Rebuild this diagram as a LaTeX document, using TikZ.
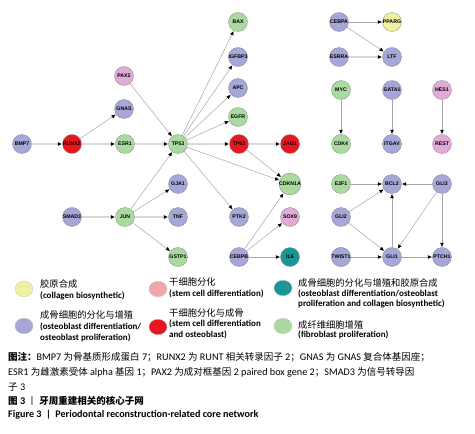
\documentclass[tikz,border=0pt]{standalone}
\usepackage{fontspec}
\setmainfont{Carlito}
\newfontfamily\cjk{Noto Sans CJK SC}
\newfontfamily\arial{Liberation Sans}
\usetikzlibrary{arrows.meta,shapes.geometric}
\definecolor{lav}{RGB}{166,166,216}
\definecolor{grn}{RGB}{170,218,160}
\definecolor{rd}{RGB}{232,22,30}
\definecolor{pk}{RGB}{226,170,214}
\definecolor{lpk}{RGB}{240,164,172}
\definecolor{yl}{RGB}{240,240,160}
\definecolor{tl}{RGB}{26,150,150}
\newcommand\zhs[1]{{\cjk\fontsize{9.5}{11}\selectfont #1}}
\tikzset{
  gene/.style={circle, draw=black!45, line width=0.35pt, minimum size=19pt, inner sep=0pt,
    font=\arial\bfseries\fontsize{5.2}{5.5}\selectfont},
  thinedge/.style={draw=black!35, line width=0.5pt, shorten >=0.5pt,
    -{Triangle[length=4pt,width=3.4pt,color=black]}},
  thickedge/.style={draw=black!15, line width=2.2pt, shorten >=0.5pt,
    -{Triangle[length=4pt,width=3.4pt,color=black]}},
  legdot/.style={ellipse, draw=black!25, line width=0.3pt, minimum width=18pt, minimum height=15.5pt, inner sep=0pt},
  legzh/.style={anchor=west, inner sep=0pt, font=\cjk\fontsize{9.3}{10}\selectfont},
  legen/.style={anchor=west, inner sep=0pt, font=\bfseries\fontsize{9}{10}\selectfont},
  capline/.style={anchor=west, inner sep=0pt, font=\fontsize{10.2}{11}\selectfont},
}
\begin{document}
\begin{tikzpicture}[x=1pt,y=-1pt]
\useasboundingbox (0,0) rectangle (475,434);
% nodes
\node[gene, fill=grn] (BAX) at (238,22) {BAX};
\node[gene, fill=lav] (IGFBP3) at (238,57) {IGFBP3};
\node[gene, fill=lav] (APC) at (238,88) {APC};
\node[gene, fill=grn] (EGFR) at (238,117) {EGFR};
\node[gene, fill=pk] (PAX2) at (124,76) {PAX2};
\node[gene, fill=lav] (GNAS) at (124,109) {GNAS};
\node[gene, fill=lav] (BMP7) at (22,144) {BMP7};
\node[gene, fill=rd] (RUNX2) at (72,144) {RUNX2};
\node[gene, fill=grn] (ESR1) at (125,144) {ESR1};
\node[gene, fill=grn] (TP53) at (178,144) {TP53};
\node[gene, fill=rd] (TP63) at (239,144) {TP63};
\node[gene, fill=rd] (JAG1) at (290,144) {JAG1};
\node[gene, fill=lav] (GJA1) at (178,184) {GJA1};
\node[gene, fill=grn] (CDKN1A) at (290,184) {CDKN1A};
\node[gene, fill=lav] (SMAD3) at (72,217) {SMAD3};
\node[gene, fill=grn] (JUN) at (125,217) {JUN};
\node[gene, fill=lav] (TNF) at (178,217) {TNF};
\node[gene, fill=lav] (PTK2) at (239,217) {PTK2};
\node[gene, fill=pk] (SOX9) at (290,217) {SOX9};
\node[gene, fill=grn] (GSTP1) at (178,257) {GSTP1};
\node[gene, fill=lav] (CEBPB) at (239,257) {CEBPB};
\node[gene, fill=tl] (IL6) at (290,257) {IL6};
\node[gene, fill=lav] (CEBPA) at (339,22) {CEBPA};
\node[gene, fill=yl] (PPARG) at (392,22) {PPARG};
\node[gene, fill=lav] (ESRRA) at (339,57) {ESRRA};
\node[gene, fill=lav] (LTF) at (392,57) {LTF};
\node[gene, fill=grn] (MYC) at (341,90) {MYC};
\node[gene, fill=lav] (GATA1) at (392,90) {GATA1};
\node[gene, fill=pk] (HES1) at (442,90) {HES1};
\node[gene, fill=grn] (CDK4) at (341,144) {CDK4};
\node[gene, fill=lav] (ITGAV) at (392,144) {ITGAV};
\node[gene, fill=pk] (REST) at (442,144) {REST};
\node[gene, fill=grn] (E2F1) at (341,184) {E2F1};
\node[gene, fill=lav] (BCL2) at (392,184) {BCL2};
\node[gene, fill=lav] (GLI3) at (442,184) {GLI3};
\node[gene, fill=lav] (GLI2) at (341,217) {GLI2};
\node[gene, fill=lav] (TWIST1) at (341,257) {TWIST1};
\node[gene, fill=lav] (GLI1) at (392,257) {GLI1};
\node[gene, fill=lav] (PTCH1) at (442,257) {PTCH1};
% edges
\draw[thickedge] (BMP7) -- (RUNX2);
\draw[thickedge] (RUNX2) -- (ESR1);
\draw[thickedge] (ESR1) -- (TP53);
\draw[thickedge] (TP53) -- (TP63);
\draw[thickedge] (TP63) -- (JAG1);
\draw[thickedge] (SMAD3) -- (JUN);
\draw[thickedge] (JUN) -- (TNF);
\draw[thickedge] (ESRRA) -- (LTF);
\draw[thinedge] (RUNX2) -- (GNAS);
\draw[thinedge] (PAX2) -- (TP53);
\draw[thinedge] (TP53) -- (BAX);
\draw[thinedge] (TP53) -- (IGFBP3);
\draw[thinedge] (TP53) -- (APC);
\draw[thinedge] (TP53) -- (EGFR);
\draw[thinedge] (TP53) -- (CDKN1A);
\draw[thinedge] (TP53) -- (PTK2);
\draw[thinedge] (TP63) -- (CDKN1A);
\draw[thinedge] (JUN) -- (TP53);
\draw[thinedge] (JUN) -- (GJA1);
\draw[thinedge] (JUN) -- (GSTP1);
\draw[thinedge] (CEBPB) -- (CDKN1A);
\draw[thinedge] (CEBPB) -- (SOX9);
\draw[thinedge] (CEBPB) -- (IL6);
\draw[thinedge] (CEBPA) -- (PPARG);
\draw[thinedge] (CEBPA) -- (LTF);
\draw[thinedge] (MYC) -- (CDK4);
\draw[thinedge] (GATA1) -- (ITGAV);
\draw[thinedge] (HES1) -- (REST);
\draw[thinedge] (E2F1) -- (BCL2);
\draw[thinedge] (GLI3) -- (BCL2);
\draw[thinedge] (GLI2) -- (BCL2);
\draw[thinedge] (GLI1) -- (BCL2);
\draw[thinedge] (GLI2) -- (GLI1);
\draw[thinedge] (GLI3) -- (GLI1);
\draw[thinedge] (GLI3) -- (PTCH1);
\draw[thinedge] (TWIST1) -- (GLI1);
\draw[thinedge] (GLI1) -- (PTCH1);
% legend
\node[legdot, fill=yl] (Lyl) at (24,289) {};
\node[legzh] (Lyl1) at (40,284) {胶原合成};
\node[legen] (Lyl2) at (40,295.5) {(collagen biosynthetic)};
\node[legdot, fill=lav] (Llv) at (24,326) {};
\node[legzh] (Llv1) at (40,315) {成骨细胞的分化与增殖};
\node[legen] (Llv2) at (40,326.5) {(osteoblast differentiation/};
\node[legen] (Llv3) at (40,337.5) {osteoblast proliferation)};
\node[legdot, fill=lpk] (Lpk) at (158,289) {};
\node[legzh] (Lpk1) at (169,282) {干细胞分化};
\node[legen] (Lpk2) at (169,294) {(stem cell differentiation)};
\node[legdot, fill=rd] (Lrd) at (158,327) {};
\node[legzh] (Lrd1) at (169,313) {干细胞分化与成骨};
\node[legen] (Lrd2) at (169,323.5) {(stem cell differentiation};
\node[legen] (Lrd3) at (169,334.5) {and osteoblast)};
\node[legdot, fill=tl] (Ltl) at (283,288) {};
\node[legzh] (Ltl1) at (298,282.5) {成骨细胞的分化与增殖和胶原合成};
\node[legen] (Ltl2) at (298,293.5) {(osteoblast differentiation/osteoblast};
\node[legen] (Ltl3) at (298,303.5) {proliferation and collagen biosynthetic)};
\node[legdot, fill=grn] (Lgn) at (283,326) {};
\node[legzh] (Lgn1) at (298,324.5) {成纤维细胞增殖};
\node[legen] (Lgn2) at (298,335) {(fibroblast proliferation)};
% caption
\node[capline] (C1) at (8,357.5) {{\cjk\bfseries\fontsize{9.5}{11}\selectfont 图注：}BMP7 \zhs{为骨基质形成蛋白} 7\zhs{；}RUNX2 \zhs{为} RUNT \zhs{相关转录因子} 2\zhs{；}GNAS \zhs{为} GNAS \zhs{复合体基因座；}};
\node[capline] (C2) at (8,372) {ESR1 \zhs{为雌激素受体} alpha \zhs{基因} 1\zhs{；}PAX2 \zhs{为成对框基因} 2 paired box gene 2\zhs{；}SMAD3 \zhs{为信号转导因}};
\node[capline] (C3) at (8,387) {\zhs{子} 3};
\node[capline] (C4) at (8,401) {{\cjk\bfseries\fontsize{9.5}{11}\selectfont 图} \textbf{3} \zhs{丨} {\cjk\bfseries\fontsize{9.5}{11}\selectfont 牙周重建相关的核心子网}};
\node[capline, font=\bfseries\fontsize{10.1}{11}\selectfont] (C5) at (8,415) {Figure 3 \ {|} \ Periodontal reconstruction-related core network};
\end{tikzpicture}
\end{document}
